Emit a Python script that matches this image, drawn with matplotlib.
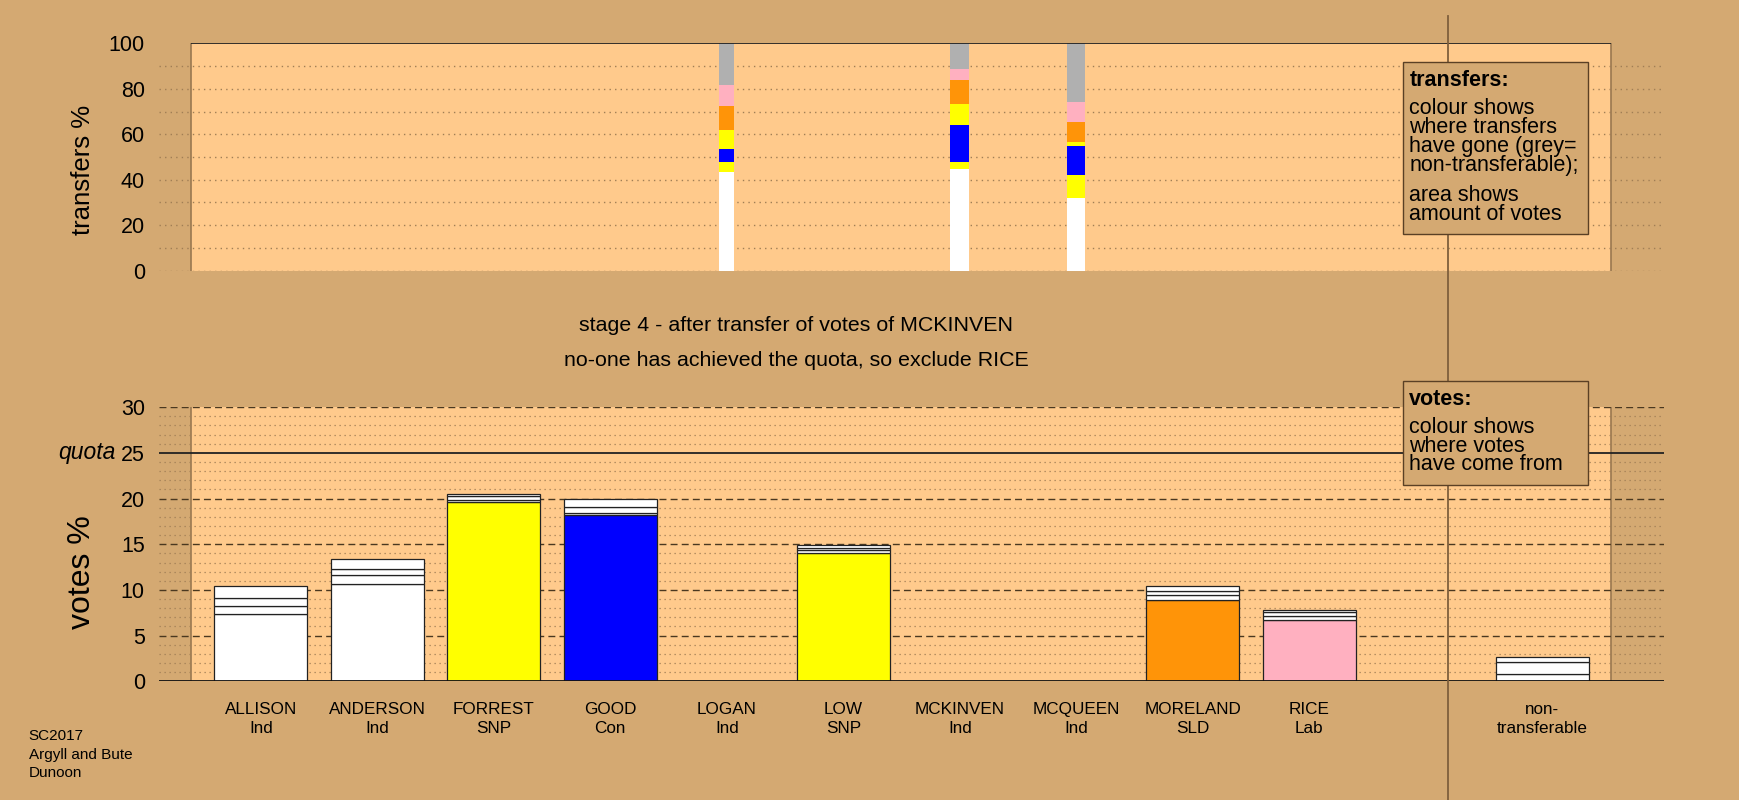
import matplotlib
matplotlib.use("Agg")
import matplotlib.pyplot as plt
from matplotlib.patches import Rectangle
from matplotlib.lines import Line2D
from matplotlib.transforms import blended_transform_factory

plt.rcParams['font.family'] = ['Liberation Sans', 'DejaVu Sans']

# ---------------- data ----------------
candidates = ['ALLISON', 'ANDERSON', 'FORREST', 'GOOD', 'LOGAN', 'LOW',
              'MCKINVEN', 'MCQUEEN', 'MORELAND', 'RICE']
parties = ['Ind', 'Ind', 'SNP', 'Con', 'Ind', 'SNP', 'Ind', 'Ind', 'SLD', 'Lab']
party_colours = {'Ind': '#FFFFFF', 'SNP': '#FFFF00', 'Con': '#0000FF',
                 'SLD': '#FF9408', 'Lab': '#FFB0C0'}
nontrans_colour = '#B0B0B0'

# votes % (bottom panel): first preferences, then transfers received at each stage
first_pref = [7.35, 10.67, 19.6, 18.2, 0, 14.0, 0, 0, 8.95, 6.7]
from_logan = [0.85, 0.98, 0.2, 0.2, 0, 0.35, 0, 0, 0.5, 0.4]
from_mcqueen = [0.97, 0.62, 0.45, 0.66, 0, 0.22, 0, 0, 0.48, 0.44]
from_mckinven = [1.28, 1.1, 0.25, 0.87, 0, 0.33, 0, 0, 0.51, 0.28]
nontransferable = [0.8, 1.3, 0.6]   # from LOGAN, MCQUEEN, MCKINVEN

# transfers % (top panel): destination shares of each excluded candidate's votes
transfer_sources = ['LOGAN', 'MCKINVEN', 'MCQUEEN']
transfer_amount = [4.4, 5.4, 5.1]   # votes % transferred (sets bar width)
transfer_dest = ['ALLISON', 'ANDERSON', 'FORREST', 'GOOD', 'LOW', 'MORELAND', 'RICE', 'non-transferable']
transfer_pct = {
    'LOGAN':    [20.0, 23.2, 4.7, 5.7, 8.4, 10.5, 9.2, 18.3],
    'MCKINVEN': [24.0, 20.7, 3.2, 16.2, 9.2, 10.6, 4.8, 11.3],
    'MCQUEEN':  [19.5, 12.5, 10.0, 13.0, 1.6, 8.8, 8.6, 26.0],
}
quota = 25
stage_title = 'stage 4 - after transfer of votes of MCKINVEN'
stage_note = 'no-one has achieved the quota, so exclude RICE'
footer = ['SC2017', 'Argyll and Bute', 'Dunoon']

# ---------------- style ----------------
BG = '#D4A972'
PANEL = '#FFCA8C'
DOT = '#A07E55'
DASH = '#4A3820'
EDGE = '#9A7850'
XMIN, XMAX = -0.876, 12.048
RX0, RX1 = -0.6, 11.59
NT_X = 11
SEP_X = 10.19

fig = plt.figure(figsize=(17.4, 8), dpi=100, facecolor=BG)
ax1 = fig.add_axes([0.0912, 0.6616, 0.8654, 0.2843])
ax2 = fig.add_axes([0.0912, 0.1484, 0.8654, 0.3426])

for ax in (ax1, ax2):
    ax.set_facecolor('none')
    for s in ax.spines.values():
        s.set_visible(False)
    ax.set_xlim(XMIN, XMAX)
    ax.set_xticks([])
    ax.tick_params(axis='y', length=0, pad=10, labelsize=15.5)

# ----- top panel -----
ax1.set_ylim(0, 100)
ax1.add_patch(Rectangle((RX0, 0), RX1 - RX0, 100, facecolor=PANEL,
                        edgecolor='none', zorder=0))
ax1.hlines(100, RX0, RX1, colors='#222222', lw=1.3, zorder=3)
ax1.vlines([RX0, RX1], 0, 100, colors=EDGE, lw=1.2, zorder=1)
for y in range(0, 100, 10):
    ax1.hlines(y, XMIN, XMAX, colors=DOT, linestyles=(0, (1, 3)), lw=1.0, zorder=1)
ax1.set_yticks(range(0, 101, 20))
ax1.set_ylabel('transfers %', fontsize=18.5)
ax1.yaxis.set_label_coords(-0.042, 0.441)

dest_colours = [party_colours[parties[candidates.index(d)]] if d in candidates else nontrans_colour
                for d in transfer_dest]
for src, amt in zip(transfer_sources, transfer_amount):
    x = candidates.index(src)
    w = amt * 0.03
    bottom = 0
    for pct, col in zip(transfer_pct[src], dest_colours):
        ax1.bar(x, pct, width=w, bottom=bottom, color=col, lw=0, zorder=2)
        bottom += pct

# ----- bottom panel -----
ax2.set_ylim(0, 30)
ax2.add_patch(Rectangle((RX0, 0), RX1 - RX0, 30, facecolor=PANEL,
                        edgecolor='none', zorder=0))
ax2.vlines([RX0, RX1], 0, 30, colors=EDGE, lw=1.2, zorder=1)
for y in range(1, 31):
    if y == quota:
        continue
    if y % 5 == 0:
        ax2.hlines(y, XMIN, XMAX, colors=DASH, linestyles=(0, (5, 3)), lw=1.0, zorder=1)
    else:
        ax2.hlines(y, XMIN, XMAX, colors=DOT, linestyles=(0, (1, 3)), lw=0.9, zorder=1)
ax2.hlines(quota, XMIN, XMAX, colors='#222222', lw=1.3, zorder=1)
ax2.hlines(0, XMIN, XMAX, colors='#111111', lw=1.3, zorder=4)
ax2.set_yticks(range(0, 31, 5))
ax2.set_ylabel('votes %', fontsize=23)
ax2.yaxis.set_label_coords(-0.041, 0.40)
ax2.annotate('quota', xy=(0, quota), xycoords=('axes fraction', 'data'),
             xytext=(-31, 0), textcoords='offset points', ha='right', va='center',
             style='italic', fontsize=16.5)

for i, c in enumerate(candidates):
    segs = [first_pref[i], from_logan[i], from_mcqueen[i], from_mckinven[i]]
    cols = [party_colours[parties[i]]] + ['#FFFFFF'] * 3
    bottom = 0
    for v, col in zip(segs, cols):
        if v > 0:
            ax2.bar(i, v, width=0.8, bottom=bottom, color=col, edgecolor='#222222',
                    lw=0.9, zorder=3)
        bottom += v
bottom = 0
for v in nontransferable:
    ax2.bar(NT_X, v, width=0.8, bottom=bottom, color='#FFFFFF', edgecolor='#222222',
            lw=0.9, zorder=3)
    bottom += v

# category labels
tr = blended_transform_factory(ax2.transData, fig.transFigure)
for i, (c, p) in enumerate(zip(candidates, parties)):
    fig.text(i, 1 - 639 / 721, c, transform=tr, ha='center', va='center', fontsize=12.3)
    fig.text(i, 1 - 657 / 721, p, transform=tr, ha='center', va='center', fontsize=12.3)
fig.text(NT_X, 1 - 639 / 721, 'non-', transform=tr, ha='center', va='center', fontsize=12.3)
fig.text(NT_X, 1 - 657 / 721, 'transferable', transform=tr, ha='center', va='center', fontsize=12.3)

# separator line
fig.add_artist(Line2D([SEP_X, SEP_X], [0, 1 - 14 / 721], transform=tr,
                      color='#7F5F3C', lw=1.3, zorder=5))

# stage texts
fig.text(717.5 / 1568, 1 - 293 / 721, stage_title, ha='center', va='center', fontsize=15.4)
fig.text(717.5 / 1568, 1 - 325 / 721, stage_note, ha='center', va='center', fontsize=15.4)

# footer
for k, t in enumerate(footer):
    fig.text(26 / 1568, 1 - (663 + 17 * k) / 721, t, ha='left', va='center', fontsize=11)

# legend boxes
def box(x0, y0, x1, y1, lines):
    fig.add_artist(Rectangle((x0 / 1568, 1 - y1 / 721), (x1 - x0) / 1568, (y1 - y0) / 721,
                             transform=fig.transFigure, facecolor=BG,
                             edgecolor='#5A4025', lw=1.0, zorder=6))
    for txt, y, bold in lines:
        fig.text(1270 / 1568, 1 - y / 721, txt, ha='left', va='center', fontsize=15.5,
                 fontweight='bold' if bold else 'normal', zorder=7)

box(1264, 56, 1431, 211, [('transfers:', 73, True), ('colour shows', 98, False),
                          ('where transfers', 115, False), ('have gone (grey=', 132, False),
                          ('non-transferable);', 149, False), ('area shows', 176, False),
                          ('amount of votes', 193, False)])
box(1264, 343, 1431, 437, [('votes:', 360, True), ('colour shows', 385, False),
                           ('where votes', 402, False), ('have come from', 419, False)])

fig.savefig('out.png', dpi=100, facecolor=BG)
